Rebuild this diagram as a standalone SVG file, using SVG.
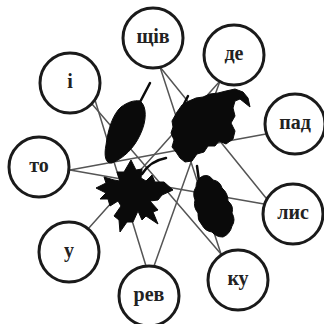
<svg xmlns="http://www.w3.org/2000/svg" width="324" height="324" viewBox="0 0 324 324">
  <style>
    .link { stroke: #555; stroke-width: 1.5; fill: none; stroke-linecap: round; }
    .leaf { fill: #0a0a0a; stroke: #0a0a0a; stroke-width: 1; stroke-linejoin: round; }
    .stem { fill: none; stroke: #0a0a0a; stroke-width: 2.5; stroke-linecap: round; }
    .node circle { fill: #fff; stroke: #1a1a1a; stroke-width: 3; }
    .node text { font-family: "Liberation Serif", "DejaVu Serif", serif; font-size: 20px; font-weight: bold; fill: #222; text-anchor: middle; }
  </style>
  <rect width="324" height="324" fill="#fff"/>

  <!-- connectors: the sentence chain у–де–рев–і–ку–щів–лис–то–пад -->
  <g id="connectors">
    <line class="link" x1="88" y1="229" x2="220" y2="81"/>
    <line class="link" x1="220" y1="81" x2="154" y2="266"/>
    <line class="link" x1="146" y1="266" x2="95" y2="100"/>
    <line class="link" x1="92" y1="104" x2="221" y2="254"/>
    <line class="link" x1="221" y1="254" x2="160" y2="67"/>
    <line class="link" x1="160" y1="67" x2="266" y2="198"/>
    <line class="link" x1="264" y1="204" x2="70" y2="170"/>
    <line class="link" x1="70" y1="170" x2="266" y2="134"/>
  </g>

  <!-- decorative leaves -->
  <g id="leaves">
    <!-- willow leaf -->
    <g id="leaf-willow">
      <path class="stem" d="M139,104 L150,83"/>
      <path class="leaf" d="M140,101 C147,106 147,121 140,135 C134,148 124,158 112,163 C105,164 104,155 106,145 C108,129 113,114 121,107 C128,102 134,100 140,101 Z"/>
    </g>
    <!-- large jagged leaf with hooked tip -->
    <g id="leaf-hooked">
      <path class="stem" d="M184,104 L188,96"/>
      <path class="leaf" d="M172,121 L177,112 L182,105 L189,101 L196,98 L203,97 L210,94 L218,93 L226,91 L235,89 L243,92 L248,98 L250,107 L245,103 L240,99 L235,101 L233,108 L235,116 L231,123 L235,131 L233,139 L226,144 L219,141 L215,146 L208,146 L204,152 L197,154 L192,161 L185,162 L180,158 L176,152 L172,147 L174,140 L171,133 L173,127 Z"/>
    </g>
    <!-- five-lobed maple leaf -->
    <g id="leaf-maple">
      <path class="stem" d="M142,174 Q150,161 166,158"/>
      <path class="leaf" d="M96,188 L106,183 L104,177 L114,180 L120,181 L117,172 L124,172 L131,160 L136,170 L142,169 L141,178 L146,181 L152,175 L155,182 L164,182 L173,190 L162,195 L158,200 L150,201 L158,210 L153,212 L158,224 L146,216 L142,220 L138,211 L133,222 L127,222 L120,232 L119,220 L114,216 L121,206 L118,201 L110,206 L108,199 L100,199 L106,193 Z"/>
    </g>
    <!-- lobed oak leaf -->
    <g id="leaf-oak">
      <path class="stem" d="M199,181 L197,166"/>
      <path class="leaf" d="M203,176 Q209,174 213,180 Q220,181 222,188 Q228,193 228,201 Q234,206 232,213 Q236,220 232,226 Q230,234 223,237 Q216,237 212,232 Q205,231 202,225 Q197,220 198,213 Q193,207 195,200 Q192,193 196,187 Q196,179 203,176 Z"/>
    </g>
  </g>

  <!-- syllable nodes -->
  <g id="node-shchiv" class="node"><circle cx="153" cy="38" r="30"/><text x="153" y="43">щів</text></g>
  <g id="node-de" class="node"><circle cx="234" cy="55" r="30"/><text x="234" y="60">де</text></g>
  <g id="node-i" class="node"><circle cx="70" cy="83" r="30"/><text x="70" y="88">і</text></g>
  <g id="node-pad" class="node"><circle cx="295" cy="124" r="30"/><text x="295" y="129">пад</text></g>
  <g id="node-to" class="node"><circle cx="39" cy="167" r="30"/><text x="39" y="172">то</text></g>
  <g id="node-lys" class="node"><circle cx="293" cy="214" r="30"/><text x="293" y="219">лис</text></g>
  <g id="node-u" class="node"><circle cx="69" cy="252" r="30"/><text x="69" y="257">у</text></g>
  <g id="node-ku" class="node"><circle cx="238" cy="280" r="30"/><text x="238" y="285">ку</text></g>
  <g id="node-rev" class="node"><circle cx="149" cy="296" r="30"/><text x="149" y="301">рев</text></g>
</svg>
